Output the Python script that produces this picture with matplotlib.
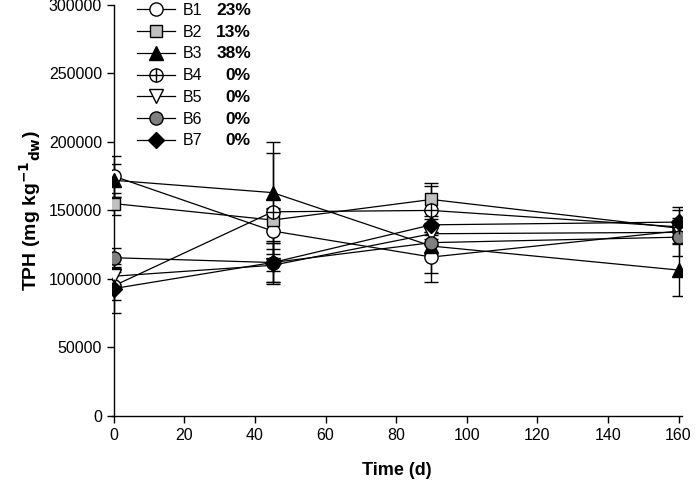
import matplotlib
matplotlib.use("Agg")
import matplotlib.pyplot as plt
from matplotlib.ticker import FormatStrFormatter

plt.rcParams['font.family'] = ['Liberation Sans', 'DejaVu Sans']

time_d = [0, 45, 90, 160]
names = ["B1", "B2", "B3", "B4", "B5", "B6", "B7"]
removal = ["23%", "13%", "38%", "0%", "0%", "0%", "0%"]

tph = {
    "B1": [175000, 135000, 116000, 135000],
    "B2": [155000, 143000, 158000, 137000],
    "B3": [172000, 163000, 124000, 106500],
    "B4": [95000, 149000, 150000, 138000],
    "B5": [102000, 110000, 133000, 134000],
    "B6": [115500, 112000, 126500, 130500],
    "B7": [93000, 112000, 139500, 141500],
}
err = {
    "B1": [15000, 17000, 18000, 5000],
    "B2": [8000, 8000, 12000, 6000],
    "B3": [12000, 37000, 20000, 19000],
    "B4": [10000, 43000, 18000, 12000],
    "B5": [6000, 12000, 8000, 5000],
    "B6": [7000, 14000, 8000, 14000],
    "B7": [18000, 16000, 10000, 11000],
}

styles = {
    "B1": dict(marker="o", mfc="white"),
    "B2": dict(marker="s", mfc="#c0c0c0", ms=8.5),
    "B3": dict(marker="^", mfc="black"),
    "B4": dict(marker="o", mfc="white"),
    "B5": dict(marker="v", mfc="white"),
    "B6": dict(marker="o", mfc="#808080"),
    "B7": dict(marker="D", mfc="black", ms=8.5),
}

fig = plt.figure(figsize=(6.96, 4.86), dpi=100)
ax = fig.add_axes([0.161, 0.144, 0.819, 0.846])

handles = []
for n in names:
    st = dict(ms=9.5)
    st.update(styles[n])
    ax.errorbar(time_d, tph[n], yerr=err[n], fmt="none", ecolor="black",
                elinewidth=1, capsize=5, capthick=1, zorder=2)
    ln, = ax.plot(time_d, tph[n], color="black", lw=0.9, mec="black",
                  mew=1, zorder=3, **st)
    if n == "B4":
        cross, = ax.plot(time_d, tph[n], ls="none", marker="+", ms=9.5,
                         mec="black", mew=1, zorder=3.1)
        handles.append((ln, cross))
    else:
        handles.append(ln)

ax.set_xlim(-0.5, 161)
ax.set_ylim(0, 300000)
ax.set_xticks(range(0, 161, 20))
ax.set_yticks(range(0, 300001, 50000))
ax.yaxis.set_major_formatter(FormatStrFormatter("%d"))
for s in ["top", "right"]:
    ax.spines[s].set_visible(False)
ax.spines["left"].set_position(("data", 0))
ax.spines["left"].set_linewidth(1)
ax.spines["bottom"].set_linewidth(1)
ax.tick_params(direction="out", length=5, width=1, labelsize=11.5)
ax.set_xlabel("Time (d)", fontsize=13, fontweight="bold", labelpad=14)
ax.set_ylabel("TPH (mg kg$^{\\mathbf{-1}}$$_{\\mathbf{dw}}$)", fontsize=14,
              fontweight="bold", labelpad=4)

leg = fig.legend(handles, names, loc="upper left",
                 bbox_to_anchor=(137 / 696, 1 - 3 / 486),
                 frameon=False, fontsize=11.5, handlelength=2.4,
                 handletextpad=0.45, labelspacing=0.42, borderpad=0,
                 borderaxespad=0)

fig.canvas.draw()
inv = fig.transFigure.inverted()
for t, pct in zip(leg.get_texts(), removal):
    bb = t.get_window_extent()
    yc = inv.transform((0, (bb.y0 + bb.y1) / 2))[1]
    fig.text(251 / 696, yc, pct, ha="right", va="center", fontsize=12.5,
             fontweight="bold")

fig.savefig("out.png", dpi=100)
